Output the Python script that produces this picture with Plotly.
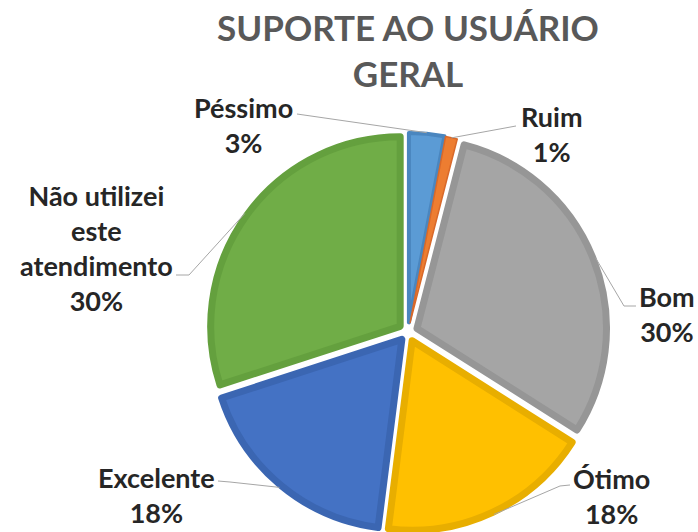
import math
import plotly.graph_objects as go

# ---- data ----
categories = ["Péssimo", "Ruim", "Bom", "Ótimo", "Excelente", "Não utilizei<br>este<br>atendimento"]
values = [3, 1, 30, 18, 18, 30]
fill_colors = ["#5B9BD5", "#ED7D31", "#A5A5A5", "#FFC000", "#4472C4", "#70AD47"]
edge_colors = ["#4A86BF", "#D8692A", "#969696", "#E8AE00", "#3B66B2", "#64A03E"]
edge_widths = [4, 1.5, 7, 7, 7, 7]

# ---- layout geometry (pixels) ----
W, H = 698, 532
CX, CY = 408, 332
R = 189.5        # pie radius
PULL = 0.051     # explode fraction

# label block centres (px) and leader-line start / elbow points (px)
label_pos = [(243, 125), (552, 134), (667, 314), (611, 496), (156, 495), (96, 248)]
leader_pts = [
    [(297, 114)],
    [(516, 126)],
    [(636, 306), (624, 306)],
    [(570, 485), (560, 486)],
    [(218, 481), (230, 482)],
    [(176, 275), (189, 275)],
]

def px2paper(x, y):
    return x / W, 1 - y / H

side = 2 * R * (1 + PULL)
dom_x = [(CX - side / 2) / W, (CX + side / 2) / W]
dom_y = [max(0.0, 1 - (CY + side / 2) / H), min(1.0, 1 - (CY - side / 2) / H)]

fig = go.Figure(go.Pie(
    labels=categories,
    values=values,
    sort=False,
    direction="clockwise",
    rotation=0,
    pull=[PULL] * len(values),
    textinfo="none",
    marker=dict(colors=fill_colors, line=dict(color=edge_colors, width=edge_widths)),
    domain=dict(x=dom_x, y=dom_y),
    showlegend=False,
))

total = sum(values)
annotations = []
shapes = []
cum = 0
for i, (cat, v) in enumerate(zip(categories, values)):
    mid = (cum + v / 2) / total * 2 * math.pi
    cum += v
    dist = R * (1 + PULL) + edge_widths[i] / 2 - 1
    ex = CX + dist * math.sin(mid)
    ey = CY - dist * math.cos(mid)
    pts = leader_pts[i] + [(ex, ey)]
    path = "M " + " L ".join("%.5f,%.5f" % px2paper(x, y) for x, y in pts)
    shapes.append(dict(type="path", xref="paper", yref="paper", path=path,
                       line=dict(color="#A6A6A6", width=1)))
    lx, ly = px2paper(*label_pos[i])
    annotations.append(dict(
        x=lx, y=ly, xref="paper", yref="paper", xanchor="center", yanchor="middle",
        text="<b>%s<br>%d%%</b>" % (cat, round(v / total * 100)),
        showarrow=False, align="center",
        font=dict(family="Lato", size=27, color="#262626"),
    ))

fig.update_layout(
    width=W, height=H,
    margin=dict(l=0, r=0, t=0, b=0),
    paper_bgcolor="white",
    plot_bgcolor="white",
    title=dict(text="<b>SUPORTE AO USUÁRIO<br>GERAL</b>",
               x=CX / W, xanchor="center", xref="paper",
               y=1 - 41 / H, yanchor="middle", yref="container",
               font=dict(family="Lato", size=35, color="#595959")),
    annotations=annotations,
    shapes=shapes,
)

fig.write_html("out.html", config={"displayModeBar": False},
               post_script="document.body.style.margin='0';")
